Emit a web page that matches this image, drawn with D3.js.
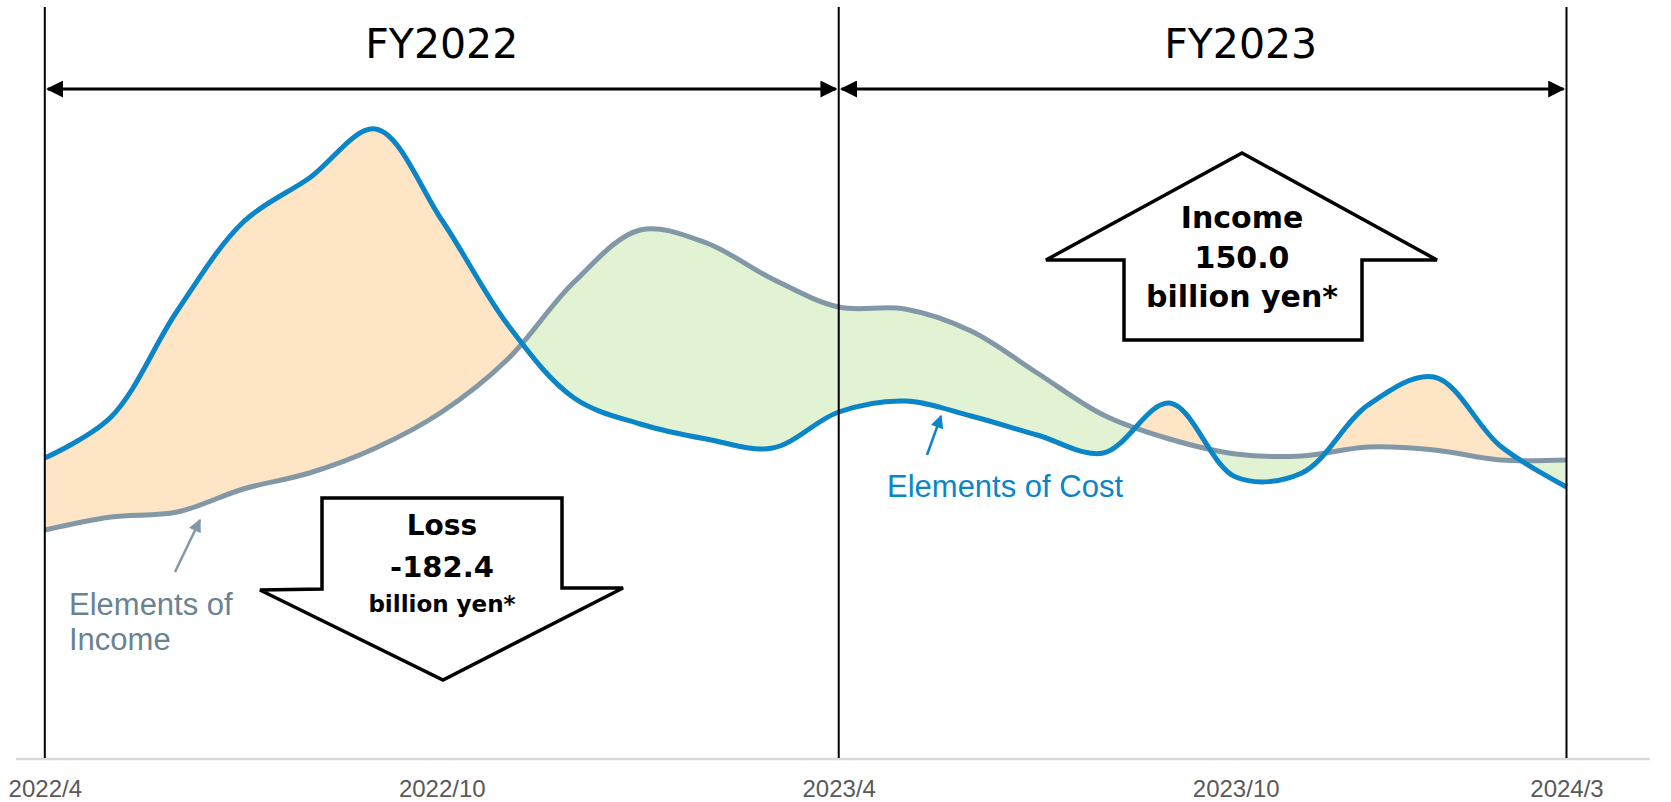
<!DOCTYPE html>
<html>
<head>
<meta charset="utf-8">
<title></title>
<style>

body {
  margin: 0;
  background: #fff;
}

.tick text {
  font: 24px "Liberation Sans", Arial, sans-serif;
  fill: #595959;
}

.fy {
  font: 41px "DejaVu Sans", sans-serif;
  fill: #000;
}

.big {
  font-family: "DejaVu Sans", Verdana, sans-serif;
  font-weight: bold;
  fill: #000;
}

.note {
  font: 31px "Liberation Sans", Arial, sans-serif;
}

</style>
</head>
<body>
<script type="text/javascript" src="https://d3js.org/d3.v7.min.js"></script>
<script>

// monthly points, FY2022 + FY2023
var months = ["2022/4", "2022/5", "2022/6", "2022/7", "2022/8", "2022/9",
              "2022/10", "2022/11", "2022/12", "2023/1", "2023/2", "2023/3",
              "2023/4", "2023/5", "2023/6", "2023/7", "2023/8", "2023/9",
              "2023/10", "2023/11", "2023/12", "2024/1", "2024/2", "2024/3"];

// elements of cost (blue) - index
var cost = [301, 342, 448, 537, 581, 630, 539, 434, 361, 335, 320, 311,
            347, 358, 343, 324, 306, 356, 282, 286, 354, 382, 313, 272];

// elements of income (grey)
var income = [229, 242, 247, 270, 286, 311, 347, 400, 477, 529, 516, 480,
              452, 450, 428, 386, 344, 320, 305, 303, 312, 309, 299, 299];

var tickMonths = ["2022/4", "2022/10", "2023/4", "2023/10", "2024/3"];
var yearBounds = ["2022/4", "2023/4", "2024/3"];
var fyLabels = ["FY2022", "FY2023"];

var lossText = ["Loss", "-182.4", "billion yen*"];
var incomeText = ["Income", "150.0", "billion yen*"];

var width = 1671,
    height = 802,
    baseY = 759;

var blue = "#0A86C8",
    grey = "#8398A6";

var data = months.map(function(m, i) {
  return {month: m, cost: cost[i], income: income[i]};
});

var x = d3.scalePoint()
    .domain(months)
    .range([44.8, 1566.5]);

var y = d3.scaleLinear()
    .domain([0, 750])
    .range([baseY, baseY - 750]);

var svg = d3.select("body").append("svg")
    .attr("width", width)
    .attr("height", height);

var defs = svg.append("defs");

function marker(id, color, w, h) {
  defs.append("marker")
      .attr("id", id)
      .attr("viewBox", "0 0 10 10")
      .attr("refX", 9)
      .attr("refY", 5)
      .attr("markerUnits", "userSpaceOnUse")
      .attr("markerWidth", w)
      .attr("markerHeight", h)
      .attr("orient", "auto-start-reverse")
    .append("path")
      .attr("d", "M0,0L10,5L0,10z")
      .attr("fill", color);
}
marker("headBlack", "#000", 17, 17);
marker("headBlue", blue, 15, 13);
marker("headGrey", grey, 15, 13);

var curve = d3.curveCatmullRom.alpha(0.5);

// clip regions above / below the cost line
defs.append("clipPath").attr("id", "belowCost")
  .append("path")
    .attr("d", d3.area().curve(curve)
        .x(function(d) { return x(d.month); })
        .y0(baseY)
        .y1(function(d) { return y(d.cost); })(data));

defs.append("clipPath").attr("id", "aboveCost")
  .append("path")
    .attr("d", d3.area().curve(curve)
        .x(function(d) { return x(d.month); })
        .y0(0)
        .y1(function(d) { return y(d.cost); })(data));

// loss where cost above income (orange)
svg.append("path")
    .attr("clip-path", "url(#belowCost)")
    .attr("fill", "#FDE5C6")
    .attr("d", d3.area().curve(curve)
        .x(function(d) { return x(d.month); })
        .y0(0)
        .y1(function(d) { return y(d.income); })(data));

// income where income above cost (green)
svg.append("path")
    .attr("clip-path", "url(#aboveCost)")
    .attr("fill", "#E2F3D4")
    .attr("d", d3.area().curve(curve)
        .x(function(d) { return x(d.month); })
        .y0(baseY)
        .y1(function(d) { return y(d.income); })(data));

svg.append("path")
    .attr("fill", "none")
    .attr("stroke", grey)
    .attr("stroke-width", 5)
    .attr("d", d3.line().curve(curve)
        .x(function(d) { return x(d.month); })
        .y(function(d) { return y(d.income); })(data));

svg.append("path")
    .attr("fill", "none")
    .attr("stroke", blue)
    .attr("stroke-width", 5)
    .attr("d", d3.line().curve(curve)
        .x(function(d) { return x(d.month); })
        .y(function(d) { return y(d.cost); })(data));

// baseline + axis labels
svg.append("line")
    .attr("x1", 16).attr("x2", 1650)
    .attr("y1", baseY).attr("y2", baseY)
    .attr("stroke", "#D9D9D9")
    .attr("stroke-width", 2.5);

var axis = svg.append("g")
    .attr("transform", "translate(0," + baseY + ")")
    .call(d3.axisBottom(x).tickValues(tickMonths).tickSize(0));
axis.select(".domain").remove();
axis.selectAll("text")
    .attr("y", 38)
    .attr("dy", null);

// fiscal year boundaries
svg.selectAll(".bound")
    .data(yearBounds)
    .enter().append("line")
    .attr("class", "bound")
    .attr("x1", function(d) { return x(d); })
    .attr("x2", function(d) { return x(d); })
    .attr("y1", 7)
    .attr("y2", baseY - 1)
    .attr("stroke", "#000")
    .attr("stroke-width", 2);

// span arrows
for (var i = 0; i < fyLabels.length; i++) {
  var a = x(yearBounds[i]), b = x(yearBounds[i + 1]);
  svg.append("line")
      .attr("x1", a + 3).attr("x2", b - 3)
      .attr("y1", 89).attr("y2", 89)
      .attr("stroke", "#000")
      .attr("stroke-width", 3)
      .attr("marker-start", "url(#headBlack)")
      .attr("marker-end", "url(#headBlack)");
}

svg.append("text").attr("class", "fy")
    .attr("x", (x("2022/4") + x("2023/4")) / 2)
    .attr("y", 58)
    .attr("text-anchor", "middle")
    .text(fyLabels[0]);

svg.append("text").attr("class", "fy")
    .attr("x", x("2023/10") + 5)
    .attr("y", 58)
    .attr("text-anchor", "middle")
    .text(fyLabels[1]);

// block arrows
svg.append("polygon")
    .attr("points", "322,498 562,498 562,588 623,588 443,680 260,590 322,589")
    .attr("fill", "#fff")
    .attr("stroke", "#000")
    .attr("stroke-width", 3.5)
    .attr("stroke-linejoin", "miter");

svg.append("polygon")
    .attr("points", "1242,153 1437,260 1362,260 1362,340 1124,340 1124,260 1046,260")
    .attr("fill", "#fff")
    .attr("stroke", "#000")
    .attr("stroke-width", 3.5);

var lossY = [535, 577, 612], lossSize = [28, 29, 23];
lossText.forEach(function(t, i) {
  svg.append("text").attr("class", "big")
      .attr("x", 442).attr("y", lossY[i])
      .attr("text-anchor", "middle")
      .style("font-size", lossSize[i] + "px")
      .text(t);
});

var incY = [228, 268, 307];
incomeText.forEach(function(t, i) {
  svg.append("text").attr("class", "big")
      .attr("x", 1242).attr("y", incY[i])
      .attr("text-anchor", "middle")
      .style("font-size", "30px")
      .text(t);
});

// line labels
svg.append("line")
    .attr("x1", 927).attr("y1", 455)
    .attr("x2", 941).attr("y2", 416)
    .attr("stroke", blue)
    .attr("stroke-width", 2.5)
    .attr("marker-end", "url(#headBlue)");

svg.append("text").attr("class", "note")
    .attr("x", 887).attr("y", 497)
    .attr("fill", blue)
    .text("Elements of Cost");

svg.append("line")
    .attr("x1", 175).attr("y1", 572)
    .attr("x2", 200).attr("y2", 520)
    .attr("stroke", grey)
    .attr("stroke-width", 2.5)
    .attr("marker-end", "url(#headGrey)");

svg.append("text").attr("class", "note")
    .attr("x", 69).attr("y", 615)
    .attr("fill", "#6A8393")
    .text("Elements of");

svg.append("text").attr("class", "note")
    .attr("x", 69).attr("y", 650)
    .attr("fill", "#6A8393")
    .text("Income");

</script>
</body>
</html>
